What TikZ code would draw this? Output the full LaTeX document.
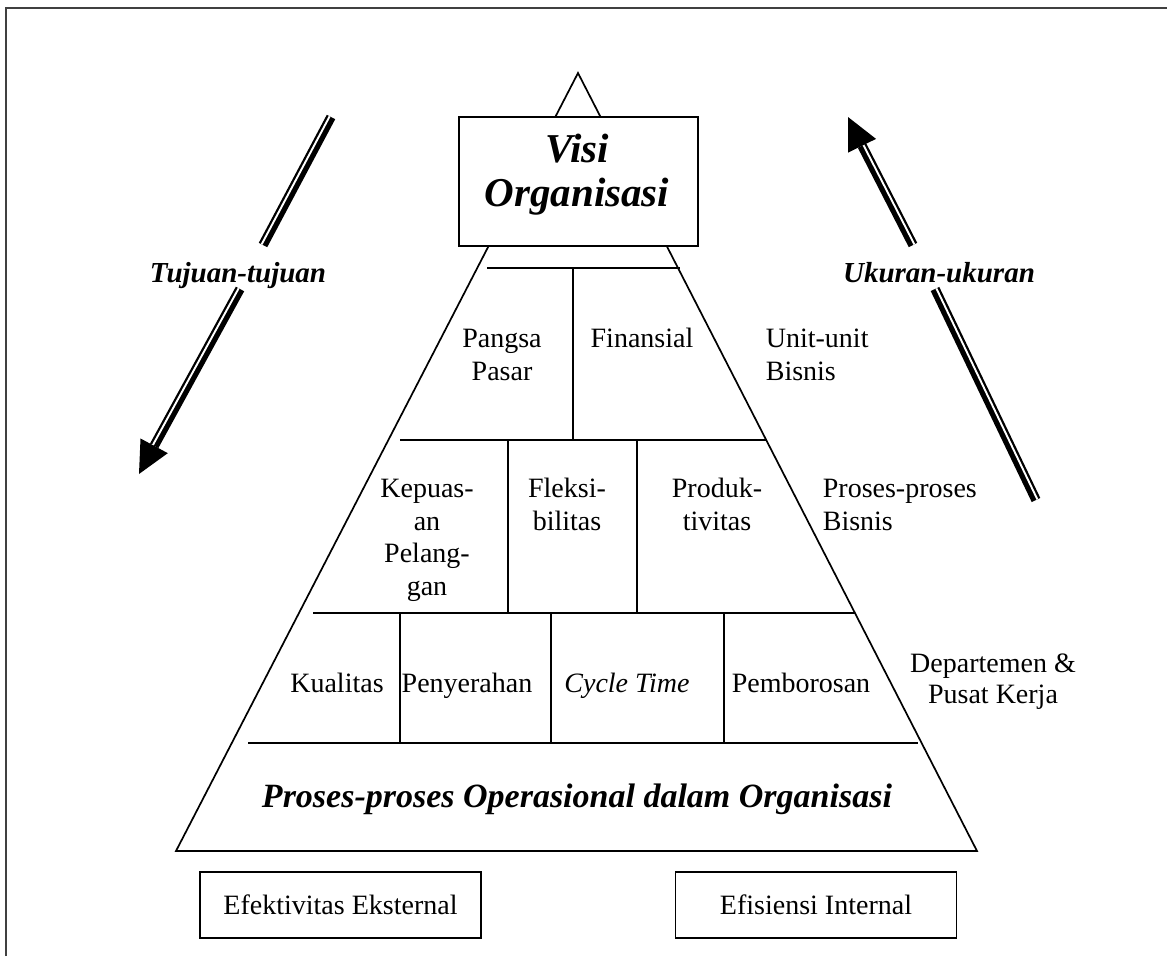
\documentclass[tikz,border=0pt]{standalone}
\usepackage{fontspec}
\setmainfont{Liberation Serif}
\usetikzlibrary{calc}
\begin{document}
\begin{tikzpicture}[x=1pt,y=-1pt,line width=1.7pt,
  lbl/.style={inner sep=0pt,font=\fontsize{28}{32.5}\selectfont,align=center,anchor=base},
  lbll/.style={lbl,align=left,anchor=base west},
  bi/.style={inner sep=0pt,font=\fontsize{29}{33}\selectfont\bfseries\itshape,anchor=base},
  boxnode/.style={draw,inner sep=0pt,minimum width=281pt,minimum height=66pt,font=\fontsize{28}{32.5}\selectfont},
  shaft/.style={line width=9.5pt},
  gap/.style={white,line width=1.9pt},
  headfill/.style={fill=black,draw=none}]
\useasboundingbox (0,0) rectangle (1167,956);
% frame
\draw[line width=2.2pt,black!75] (6,956) -- (6,8) -- (1167,8);
% pyramid
\coordinate (apex) at (578,73);
\coordinate (bl) at (176,851);
\coordinate (br) at (977,851);
\draw (apex) -- (bl) -- (br) -- cycle;
% vision box
\node[draw,fill=white,minimum width=239pt,minimum height=129pt,inner sep=0pt] (visi) at (578.5,181.5) {};
\node[inner sep=0pt,anchor=base,align=center,font=\fontsize{41}{44}\selectfont\bfseries\itshape] (visit) at (577,206) {Visi\\Organisasi};
% grid lines
\draw (487,268) -- (680,268);
\draw (400,440) -- (767,440);
\draw (313,613) -- (855,613);
\draw (248,743) -- (918,743);
\draw (573,268) -- (573,440);
\draw (508,440) -- (508,613);
\draw (637,440) -- (637,613);
\draw (400,613) -- (400,743);
\draw (551,613) -- (551,743);
\draw (724,613) -- (724,743);
% cell texts (base anchor = baseline of last line)
\node[lbl] (pangsa) at (502,380) {Pangsa\\Pasar};
\node[lbl] (fin) at (642,347) {Finansial};
\node[lbll] (unit) at (765,380) {Unit-unit\\Bisnis};
\node[lbl] (kep) at (427,595) {Kepuas-\\an\\Pelang-\\gan};
\node[lbl] (flek) at (567,530) {Fleksi-\\bilitas};
\node[lbl] (prod) at (717,530) {Produk-\\tivitas};
\node[lbll] (pros) at (822,530) {Proses-proses\\Bisnis};
\node[lbl] (kual) at (337,692) {Kualitas};
\node[lbl] (peny) at (467,692) {Penyerahan};
\node[lbl] (cyc) at (627,692) {\itshape Cycle Time};
\node[lbl] (pemb) at (801,692) {Pemborosan};
\node[lbl,font=\fontsize{28}{31}\selectfont] (dept) at (993,703) {Departemen \&\\Pusat Kerja};
\node[inner sep=0pt,anchor=base,font=\fontsize{34}{38}\selectfont\bfseries\itshape] (title) at (577,807) {Proses-proses Operasional dalam Organisasi};
% bottom boxes
\node[boxnode] (eks) at (340.5,905) {Efektivitas Eksternal};
\node[boxnode] (int) at (816,905) {Efisiensi Internal};
% left arrow (Tujuan-tujuan)
\coordinate (a1) at (331,117);
\coordinate (a2) at (263,245);
\coordinate (a3) at (240,289);
\coordinate (at) at (139,474);
\coordinate (am) at ($(at)!32pt!(a1)$);
\draw[shaft] (a1) -- (a2);
\draw[gap] ($(a1)!1.5pt!-90:(a2)$) -- ($(a2)!1.5pt!90:(a1)$);
\draw[shaft] (a3) -- (am);
\draw[gap] ($(a3)!1.5pt!-90:(am)$) -- ($(am)!1.5pt!90:(a3)$);
\fill[headfill] (at) -- ($(am)!15.5pt!90:(at)$) -- ($(am)!15.5pt!-90:(at)$) -- cycle;
\node[bi] (tuj) at (238,282) {Tujuan-tujuan};
% right arrow (Ukuran-ukuran)
\coordinate (b4) at (1036,500);
\coordinate (b3) at (935,289);
\coordinate (b2) at (913,245);
\coordinate (bt) at (848,117);
\coordinate (bm) at ($(bt)!32pt!(b4)$);
\draw[shaft] (b4) -- (b3);
\draw[gap] ($(b4)!1.5pt!-90:(b3)$) -- ($(b3)!1.5pt!90:(b4)$);
\draw[shaft] (b2) -- (bm);
\draw[gap] ($(b2)!1.5pt!-90:(bm)$) -- ($(bm)!1.5pt!90:(b2)$);
\fill[headfill] (bt) -- ($(bm)!15.5pt!90:(bt)$) -- ($(bm)!15.5pt!-90:(bt)$) -- cycle;
\node[bi] (uk) at (939,282) {Ukuran-ukuran};
\end{tikzpicture}
\end{document}
